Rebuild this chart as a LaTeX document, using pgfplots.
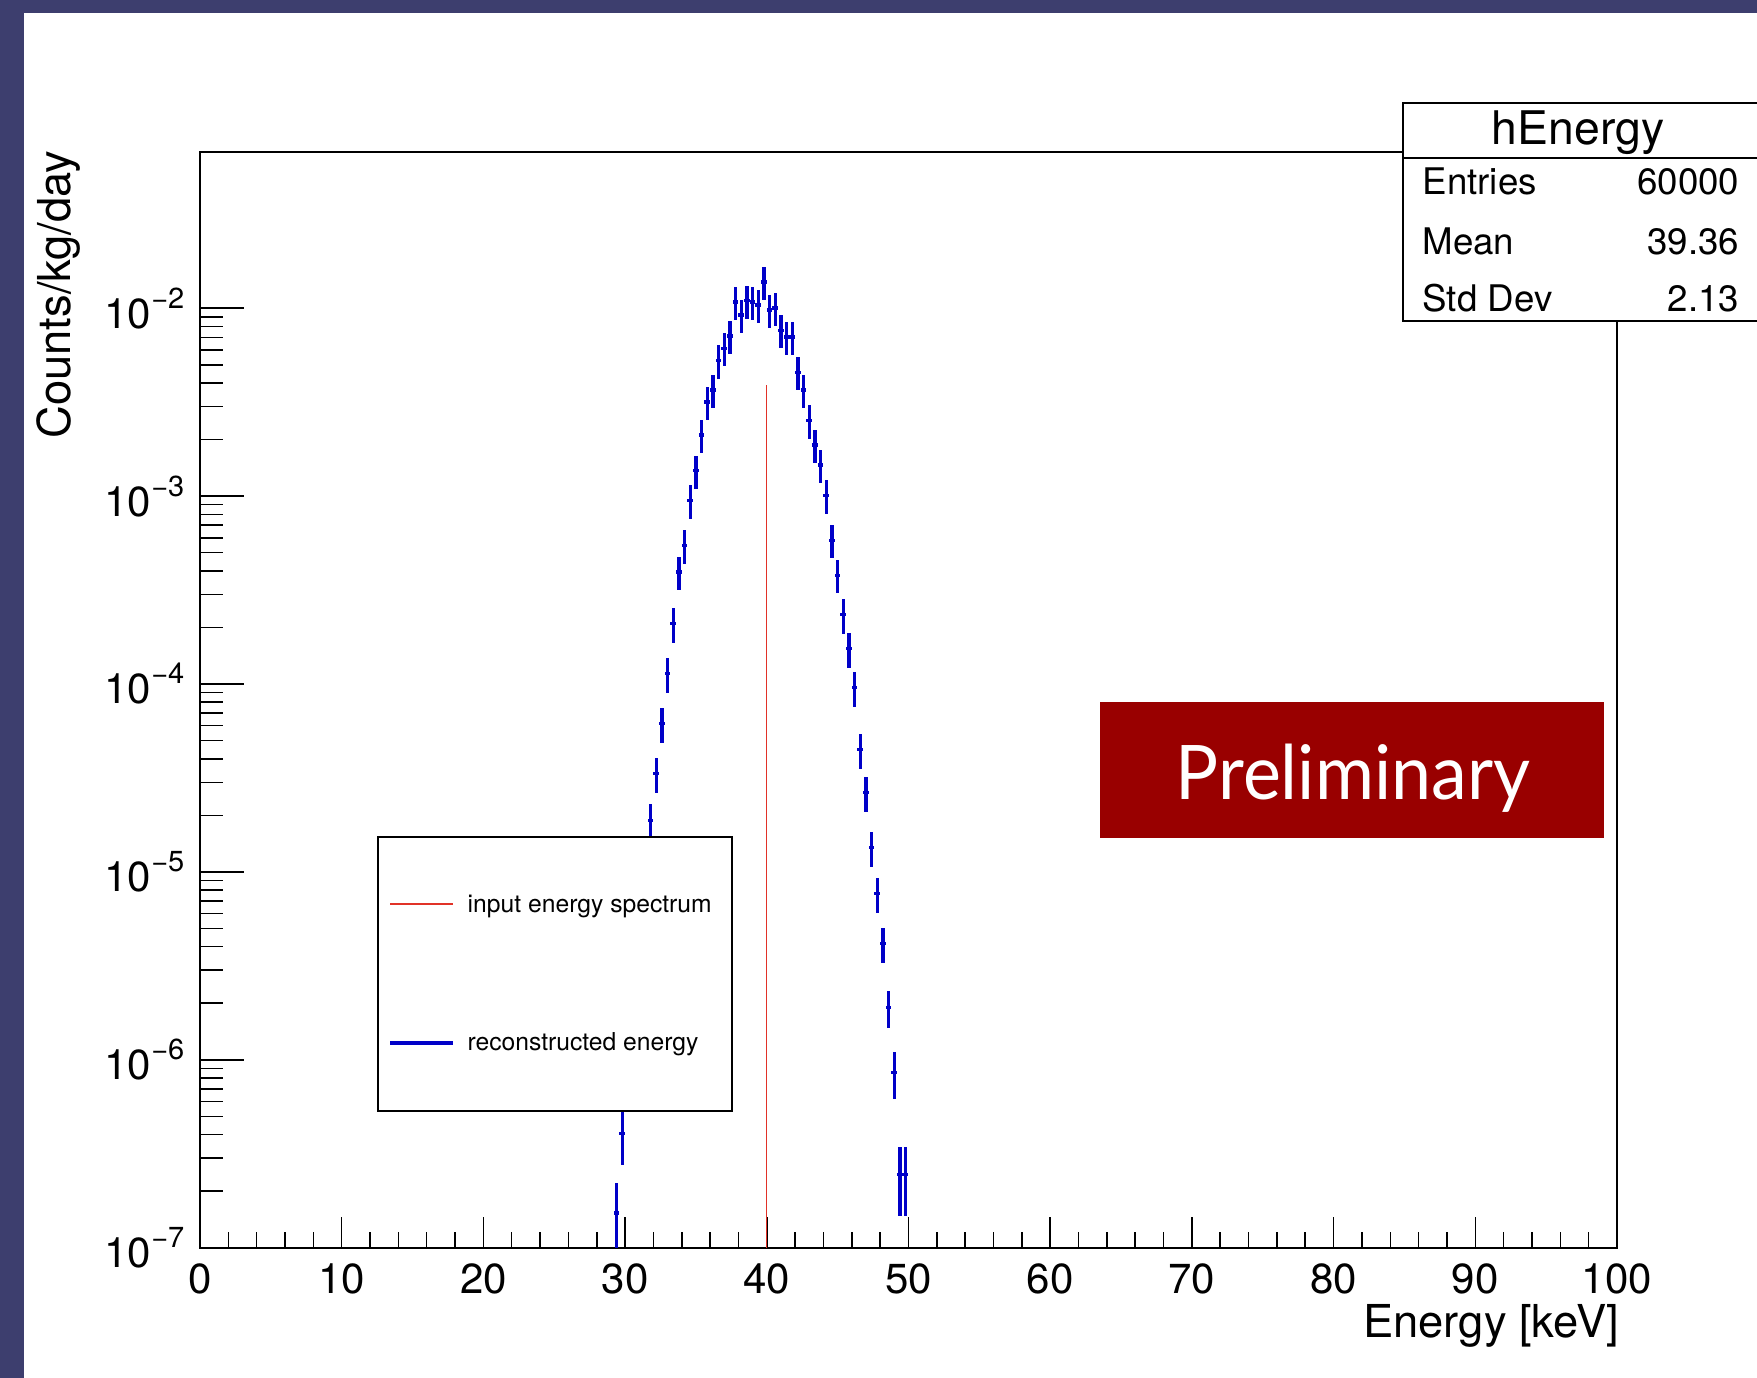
\documentclass[border=0pt]{standalone}
\usepackage{pgfplots}
\usepackage{pgfplotstable}
\pgfplotsset{compat=1.18}
\usepackage{fontspec}
\setmainfont{TeX Gyre Heros}
\newfontfamily\prelimfont{Lato}
\definecolor{framecol}{RGB}{61,62,110}
\definecolor{rootblue}{RGB}{0,0,200}
\definecolor{rootred}{RGB}{225,50,40}
\definecolor{prelimcol}{RGB}{153,0,0}
\newcommand\tsup[1]{\raisebox{6pt}{\fontsize{8.7pt}{9pt}\selectfont #1}}

\pgfplotstableread{
x y r
29.4 1.53e-7 0.44
29.8 4.05e-7 0.32
30.2 9.0e-7 0.25
30.6 2.0e-6 0.23
31.0 4.4e-6 0.22
31.4 9.5e-6 0.22
31.8 1.88e-5 0.22
32.2 3.34e-5 0.21
32.6 6.17e-5 0.21
33.0 1.14e-4 0.21
33.4 2.10e-4 0.21
33.8 3.94e-4 0.20
34.2 5.47e-4 0.20
34.6 9.5e-4 0.20
35.0 1.37e-3 0.20
35.4 2.12e-3 0.20
35.8 3.17e-3 0.20
36.2 3.66e-3 0.20
36.6 5.28e-3 0.20
37.0 6.12e-3 0.20
37.4 7.10e-3 0.20
37.8 1.08e-2 0.20
38.2 9.18e-3 0.20
38.6 1.10e-2 0.20
39.0 1.08e-2 0.20
39.4 1.04e-2 0.20
39.8 1.38e-2 0.20
40.2 9.8e-3 0.20
40.6 1.0e-2 0.20
41.0 7.63e-3 0.20
41.4 7.01e-3 0.20
41.8 7.01e-3 0.20
42.2 4.56e-3 0.20
42.6 3.66e-3 0.20
43.0 2.53e-3 0.20
43.4 1.87e-3 0.20
43.8 1.46e-3 0.20
44.2 1.01e-3 0.20
44.6 5.82e-4 0.20
45.0 3.79e-4 0.20
45.4 2.35e-4 0.21
45.8 1.55e-4 0.21
46.2 9.6e-5 0.21
46.6 4.49e-5 0.21
47.0 2.65e-5 0.21
47.4 1.35e-5 0.21
47.8 7.67e-6 0.21
48.2 4.16e-6 0.21
48.6 1.90e-6 0.22
49.0 8.55e-7 0.28
49.4 2.45e-7 0.40
49.8 2.45e-7 0.40
}\recodata

\begin{document}
\begin{tikzpicture}
\begin{scope}[x=0.3pt,y=-0.3pt]
\useasboundingbox (0,0) rectangle (1757,1378);
\fill[white] (0,0) rectangle (1757,1378);
\fill[framecol] (0,0) rectangle (1757,13);
\fill[framecol] (0,0) rectangle (24,1378);
\end{scope}
\begin{axis}[
  at={(60pt,-374.31pt)}, anchor=south west,
  scale only axis, width=425.1pt, height=328.71pt,
  xmin=0, xmax=100, ymode=log, ymin=1e-7, ymax=0.0678,
  axis line style={line width=0.5pt},
  tick align=inside, tick pos=left,
  tick style={black, line width=0.45pt},
  major tick length=13.2pt, minor tick length=6.8pt,
  xtick style={/pgfplots/major tick length=9.3pt, /pgfplots/minor tick length=4.8pt},
  xtick={0,10,...,100}, minor x tick num=4,
  ytick={1e-7,1e-6,1e-5,1e-4,1e-3,1e-2},
  yticklabels={10\tsup{−7},10\tsup{−6},10\tsup{−5},10\tsup{−4},10\tsup{−3},10\tsup{−2}},
  ticklabel style={font=\fontsize{12.6pt}{14pt}\selectfont},
  /pgf/number format/assume math mode=true,
  xticklabel style={inner sep=0pt, yshift=-4.6pt},
  yticklabel style={inner sep=0pt, xshift=-4.5pt},
  xlabel={Energy [keV]},
  xlabel style={at={(rel axis cs:1.002,-0.0824)}, anchor=base east, inner sep=0pt, font=\fontsize{13.6pt}{15pt}\selectfont},
  ylabel={Counts/kg/day},
  ylabel style={at={(rel axis cs:-0.09174,1.002)}, anchor=base east, inner sep=0pt, font=\fontsize{13.6pt}{15pt}\selectfont},
]
\addplot[rootred, line width=0.4pt] coordinates {(40,1e-7) (40,3.89e-3)};
\addplot[only marks, mark=*, mark size=0pt, mark options={draw opacity=0, fill opacity=0},
  error bars/.cd, x dir=both, x fixed=0.2, y dir=both, y explicit relative,
  error mark=none, error bar style={draw=rootblue, draw opacity=1, line width=1.05pt}]
  table[x=x, y=y, y error=r] {\recodata};
\end{axis}
\begin{scope}[x=0.3pt,y=-0.3pt]
\clip (0,0) rectangle (1757,1378);
% legend
\draw[line width=0.5pt, fill=white] (378,837) rectangle (732,1111);
\draw[rootred, line width=0.45pt] (390,904) -- (453,904);
\node[anchor=base west, inner sep=0pt, font=\fontsize{7.4pt}{9pt}\selectfont] at (467,912) {input energy spectrum};
\draw[rootblue, line width=1.05pt] (390,1043) -- (453,1043);
\node[anchor=base west, inner sep=0pt, font=\fontsize{7.4pt}{9pt}\selectfont] at (467,1050) {reconstructed energy};
% stats box
\draw[line width=0.5pt, fill=white] (1403,103) rectangle (1800,321);
\draw[line width=0.5pt] (1403,158) -- (1800,158);
\node[anchor=base, inner sep=0pt, font=\fontsize{13.9pt}{15pt}\selectfont] at (1578,145) {hEnergy};
\node[anchor=base west, inner sep=0pt, font=\fontsize{11pt}{13pt}\selectfont] at (1422,194) {Entries};
\node[anchor=base east, inner sep=0pt, font=\fontsize{11pt}{13pt}\selectfont] at (1740,194) {60000};
\node[anchor=base west, inner sep=0pt, font=\fontsize{11pt}{13pt}\selectfont] at (1422,254) {Mean};
\node[anchor=base east, inner sep=0pt, font=\fontsize{11pt}{13pt}\selectfont] at (1740,254) {39.36};
\node[anchor=base west, inner sep=0pt, font=\fontsize{11pt}{13pt}\selectfont] at (1422,311) {Std Dev};
\node[anchor=base east, inner sep=0pt, font=\fontsize{11pt}{13pt}\selectfont] at (1740,311) {2.13};
% preliminary
\fill[prelimcol] (1100,702) rectangle (1604,838);
\node[white, anchor=base, inner sep=0pt, font=\prelimfont\fontsize{22.6pt}{24pt}\selectfont] at (1353,799) {\scalebox{0.953}[1]{Preliminary}};
\end{scope}
\end{tikzpicture}
\end{document}
